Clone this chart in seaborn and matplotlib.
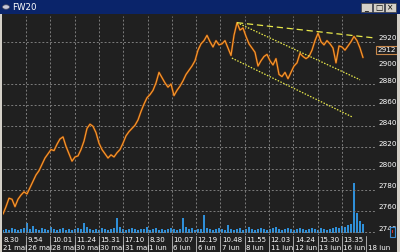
import numpy as np
import pandas as pd
import matplotlib
matplotlib.use("Agg")
import matplotlib.pyplot as plt
import matplotlib.transforms as mtrans
from matplotlib.patches import Rectangle, Circle
import seaborn as sns

# ---------------- data ----------------
price = [2757, 2764, 2772, 2771, 2764, 2771, 2775, 2778, 2776, 2782,
         2788, 2794, 2798, 2804, 2810, 2814, 2818, 2817, 2823, 2828,
         2830, 2821, 2814, 2807, 2811, 2812, 2818, 2826, 2838, 2842,
         2840, 2834, 2824, 2818, 2814, 2810, 2813, 2811, 2815, 2818,
         2824, 2831, 2835, 2838, 2841, 2846, 2854, 2861, 2867, 2870,
         2874, 2881, 2891, 2886, 2881, 2877, 2880, 2869, 2874, 2878,
         2883, 2889, 2893, 2897, 2902, 2912, 2918, 2921, 2926, 2920,
         2915, 2921, 2917, 2918, 2921, 2914, 2907, 2926, 2938, 2931,
         2933, 2925, 2918, 2914, 2910, 2897, 2902, 2906, 2908, 2902,
         2898, 2904, 2889, 2887, 2891, 2885, 2891, 2897, 2900, 2909,
         2906, 2904, 2906, 2912, 2921, 2928, 2920, 2917, 2921, 2918,
         2914, 2900, 2916, 2915, 2912, 2916, 2920, 2925, 2921, 2914,
         2905]

volume = [3, 4, 3, 5, 4, 3, 4, 5, 10, 4,
          7, 4, 3, 5, 4, 3, 6, 4, 3, 4,
          5, 3, 4, 3, 4, 5, 4, 10, 6, 4,
          3, 4, 3, 5, 4, 3, 4, 5, 15, 6,
          4, 3, 4, 5, 4, 3, 4, 4, 6, 3,
          4, 5, 3, 4, 3, 4, 5, 4, 3, 4,
          15, 6, 4, 5, 3, 4, 4, 18, 5, 4,
          3, 4, 5, 4, 3, 8, 4, 3, 4, 5,
          3, 4, 6, 4, 3, 4, 5, 4, 3, 4,
          5, 6, 4, 3, 4, 5, 4, 3, 4, 5,
          4, 3, 4, 5, 4, 3, 5, 4, 3, 4,
          5, 6, 5, 7, 6, 8, 9, 50, 20, 12,
          9]

time_labels = ["8.30", "9.54", "10.01", "11.24", "15.31", "17.10", "8.30", "10.07",
               "12.19", "10.48", "11.55", "12.03", "14.24", "15.30", "13.35"]
date_labels = ["21 mai", "26 mai", "28 mai", "30 mai", "30 mai", "31 mai", "1 iun", "6 iun",
               "6 iun", "7 iun", "8 iun", "11 iun", "12 iun", "13 iun", "16 iun", "18 iun"]

y_tick_values = [2920, 2900, 2880, 2860, 2840, 2820, 2800, 2780, 2760, 2740]
grid_values = [2920, 2880, 2860, 2840, 2820, 2800, 2780, 2760, 2740]

# trend lines drawn on the chart: (x0, p0, x1, p1)
trend_top = (78, 2938, 124, 2923.5)
trend_mid = (78, 2938, 119, 2884)
trend_low = (76.3, 2904.5, 116.3, 2849)

last_label = "2912"
title = "FW20"

# ---------------- figure ----------------
sns.set_theme(style="dark")
plt.rcParams["font.family"] = ["DejaVu Sans"]

W, H = 400, 252
BG = "#202020"
fig = plt.figure(figsize=(4, 2.52), dpi=100, facecolor=BG)


def fx(x):
    return x / W


def fy(y):
    return 1 - y / H


rect = [fx(3), fy(235), (376 - 3) / W, (235 - 16) / H]
XMAX = (376 - 3) / 3.0
YMIN, YMAX = 2737.2, 2944.3

idx = np.arange(len(price))
df = pd.DataFrame({"i": idx, "price": price, "volume": volume})

# volume axes (behind)
axv = fig.add_axes(rect)
axv.set_facecolor(BG)
sns.barplot(data=df, x="i", y="volume", native_scale=True, ax=axv,
            color="#2f8fd8", saturation=1, width=0.8, errorbar=None, linewidth=0)
axv.set_xlim(0, XMAX)
axv.set_ylim(-2, 217)
axv.axis("off")

# price axes
ax = fig.add_axes(rect)
ax.patch.set_visible(False)
ax.set_xlim(0, XMAX)
ax.set_ylim(YMIN, YMAX)

label_pos = [-0.43 + 8.1 * k for k in range(len(date_labels))]

for g in grid_values:
    ax.axhline(g, color="#7c7c7c", lw=0.7, ls=(0, (2, 2)), zorder=0)
for p in label_pos[1:15]:
    ax.axvline(p, color="#7c7c7c", lw=0.7, ls=(0, (2, 2)), zorder=0)

sns.lineplot(data=df, x="i", y="price", ax=ax, color="#5e2c0c", linewidth=1.7, legend=False)
sns.lineplot(data=df, x="i", y="price", ax=ax, color="#f5962c", linewidth=0.9, legend=False)

ax.plot(trend_top[::2], trend_top[1::2], color="#e8e84a", lw=0.9, ls=(0, (5, 3)), clip_on=False)
ax.plot(trend_mid[::2], trend_mid[1::2], color="#e8e84a", lw=0.9, ls=(0, (1.2, 1.2)), clip_on=False)
ax.plot(trend_low[::2], trend_low[1::2], color="#e8e84a", lw=0.9, ls=(0, (1.2, 1.2)), clip_on=False)

ax.set_xticks([])
ax.set_yticks([])
ax.set_xlabel("")
ax.set_ylabel("")
for s in ax.spines.values():
    s.set_visible(False)

# right-hand price labels
ylab_tr = mtrans.blended_transform_factory(fig.transFigure, ax.transData)
for v in y_tick_values:
    off = -1.0 if v == 2900 else 3.3
    ax.text(fx(378), v + off, f"{v}", transform=ylab_tr, color="white",
            fontsize=5.2, ha="left", va="center", clip_on=False)

# last price box
ax.text(fx(386.5), 2912, last_label, transform=ylab_tr, color="white",
        fontsize=5.2, ha="center", va="center", clip_on=False,
        bbox=dict(boxstyle="square,pad=0.12", fc=BG, ec="#c8884a", lw=0.8))

# small marker box bottom right
fig.patches.append(Rectangle((fx(390), fy(237)), 5 / W, 10 / H, transform=fig.transFigure,
                             fc=BG, ec="#3a8ad0", lw=0.8))
fig.patches.append(Rectangle((fx(392), fy(233)), 1.2 / W, 3 / H, transform=fig.transFigure,
                             fc="#d03030", ec="none"))

# bottom time/date labels
lab_tr = mtrans.blended_transform_factory(ax.transData, fig.transFigure)
for k, p in enumerate(label_pos):
    if k < len(time_labels):
        ax.text(p + 0.5, fy(240.5), time_labels[k], transform=lab_tr, color="white",
                fontsize=5.0, ha="left", va="center", clip_on=False)
    ax.text(p + 0.5, fy(247.5), date_labels[k], transform=lab_tr, color="white",
            fontsize=5.0, ha="left", va="center", clip_on=False)
    if k > 0:
        ax.plot([p, p], [fy(236), fy(252)], transform=lab_tr, color="#bdbdbd",
                lw=0.6, clip_on=False)

# window chrome
fig.patches.append(Rectangle((0, fy(14)), 1, 14 / H, transform=fig.transFigure,
                             fc="#0a246a", ec="none"))
fig.patches.append(Circle((fx(6), fy(7)), 3.5 / W, transform=fig.transFigure,
                          fc="#c8c8d8", ec="#505060", lw=0.5))
fig.text(fx(12), fy(7.5), title, color="white", fontsize=6.2,
         ha="left", va="center")
for bx, glyph in [(361, "_"), (373, "□"), (385, "×")]:
    fig.patches.append(Rectangle((fx(bx), fy(12)), 11 / W, 9 / H, transform=fig.transFigure,
                                 fc="#d4d0c8", ec="#404040", lw=0.5))
    fig.text(fx(bx + 5.5), fy(7.5), glyph, color="black", fontsize=5.5,
             ha="center", va="center")
fig.patches.append(Rectangle((0, 0), 2 / W, fy(14), transform=fig.transFigure,
                             fc="#d4d0c8", ec="none"))
fig.patches.append(Rectangle((fx(397), 0), 3 / W, fy(14), transform=fig.transFigure,
                             fc="#d4d0c8", ec="none"))

fig.savefig("out.png", dpi=100, facecolor=BG)
